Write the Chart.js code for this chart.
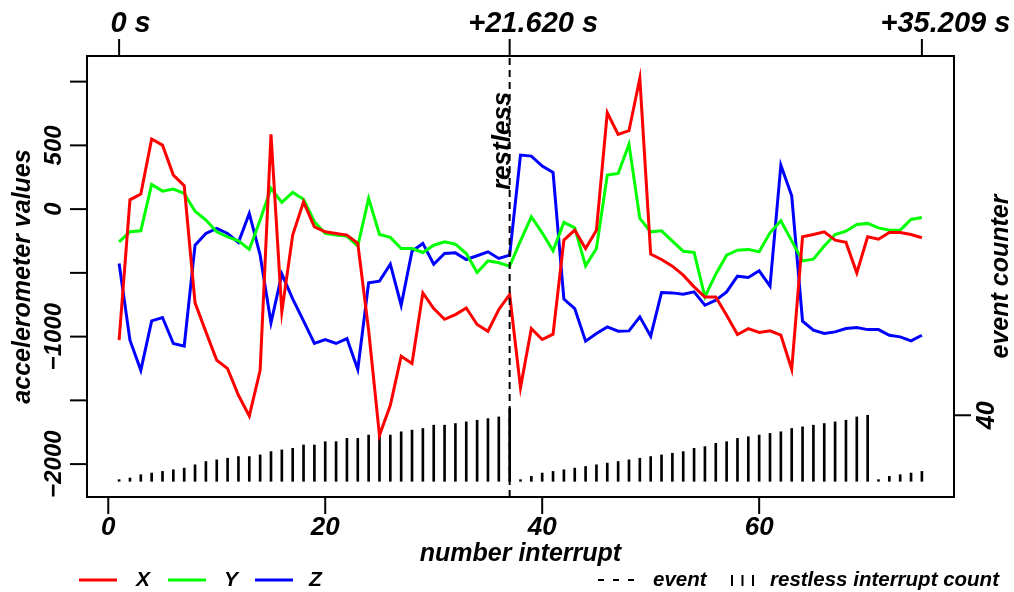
<!DOCTYPE html>
<html>
<head>
<meta charset="utf-8">
<script src="https://cdn.jsdelivr.net/npm/chart.js@4"></script>
<style>
  html,body{margin:0;padding:0;background:#fff}
  #wrap{position:relative;width:1014px;height:592px}
</style>
</head>
<body>
<div id="wrap"><canvas id="chart"></canvas></div>
<script>
// ══════════════ DONNÉES ══════════════
const X_VALS = [-1028,73,118,550,502,267,183,-735,-963,-1185,-1251,-1460,-1622,-1264,586,-806,-204,57,-139,-178,
  -191,-204,-269,-950,-1774,-1539,-1154,-1211,-657,-780,-864,-827,-775,-905,-958,-787,-670,-1400,-937,-1023,
  -981,-243,-165,-309,-165,756,586,615,1026,-353,-395,-447,-518,-610,-690,-690,-832,-984,-937,-968,
  -955,-989,-1256,-217,-199,-178,-243,-261,-500,-217,-236,-183,-183,-199,-225];
const Y_VALS = [-257,-178,-170,194,141,157,123,-16,-86,-178,-217,-249,-316,-86,162,53,131,78,-99,-191,
  -204,-212,-290,84,-199,-222,-309,-309,-340,-283,-257,-275,-348,-497,-406,-421,-447,-249,-60,-186,
  -327,-104,-147,-445,-309,267,280,508,-73,-178,-170,-251,-330,-340,-688,-510,-361,-322,-316,-335,
  -186,-92,-249,-406,-393,-290,-199,-173,-120,-112,-147,-165,-165,-81,-65];
const Z_VALS = [-426,-1028,-1264,-877,-850,-1054,-1075,-283,-191,-152,-191,-261,-34,-361,-892,-510,-704,-877,-1054,-1023,
  -1054,-1015,-1258,-578,-565,-432,-754,-330,-269,-432,-348,-343,-395,-366,-335,-387,-361,424,416,338,
  288,-706,-780,-1036,-976,-924,-958,-955,-845,-997,-654,-657,-667,-649,-754,-714,-649,-526,-536,-484,
  -604,345,104,-879,-950,-976,-963,-937,-929,-945,-945,-989,-1002,-1034,-989];
const COUNTS = [1,2,4,5,6,7,8,10,12,13,14,15,15,16,18,19,20,22,22,24,
  24,26,26,28,28,28,30,31,32,34,34,35,36,37,38,39,44,1,3,5,
  6,7,8,9,10,11,12,13,14,15,16,17,18,20,21,23,24,26,27,28,
  29,30,32,33,34,35,36,37,39,40,1,3,4,5,6];

const EVENT_AT = 37;
const TIME_AT = [1, 37, 75];
const TIME_LABELS = ['0 s', '+21.620 s', '+35.209 s'];
const X_TICKS = [0, 20, 40, 60];
const Y_TICKS = [1000, 500, 0, -500, -1000, -1500, -2000];
const Y_LABELED = [500, 0, -1000, -2000];
const Y2_TICKS = [40];

const X_RANGE = [-1.96, 77.96];
const Y_RANGE = [-2258, 1201];
const Y2_RANGE = [-9.5, 257.6];

const idx = X_VALS.map((_, i) => i + 1);

// ══════════════ UTILS ══════════════
const rFont = px => `italic bold ${px}px "Liberation Sans", Arial, sans-serif`;
const fmt = v => v < 0 ? '\u2212' + Math.abs(v) : String(v);

function txt(ctx, s, x, y, px, opt){
  opt = opt || {};
  ctx.save();
  ctx.translate(x, y);
  if(opt.rot) ctx.rotate(opt.rot);
  ctx.font = rFont(px);
  ctx.textAlign = opt.align || 'center';
  ctx.textBaseline = opt.base || 'middle';
  ctx.fillStyle = '#000';
  ctx.fillText(s, 0, 0);
  ctx.restore();
}
function seg(ctx, x1, y1, x2, y2, w, dash){
  ctx.save();
  ctx.beginPath();
  ctx.lineWidth = w || 2;
  ctx.strokeStyle = '#000';
  if(dash) ctx.setLineDash(dash);
  ctx.moveTo(x1, y1); ctx.lineTo(x2, y2);
  ctx.stroke();
  ctx.restore();
}

// ══════════════ AXES STYLE R ══════════════
const rAxes = {
  id: 'rAxes',
  afterDatasetsDraw(chart){
    const { ctx, chartArea: a, scales } = chart;
    const sx = scales.x, sy = scales.y, sy2 = scales.y2;
    const TL = 17;

    // cadre
    ctx.save();
    ctx.lineWidth = 2; ctx.strokeStyle = '#000';
    ctx.strokeRect(a.left, a.top, a.right - a.left, a.bottom - a.top);
    ctx.restore();

    // axe du bas
    X_TICKS.forEach(v => {
      const p = sx.getPixelForValue(v);
      seg(ctx, p, a.bottom, p, a.bottom + TL);
      txt(ctx, String(v), p, a.bottom + 31, 26);
    });
    txt(ctx, 'number interrupt', (a.left + a.right) / 2, 561, 25, { base: 'alphabetic' });

    // axe du haut (temps)
    TIME_AT.forEach((v, i) => {
      const p = sx.getPixelForValue(v);
      seg(ctx, p, a.top, p, a.top - TL);
      ctx.font = rFont(29);
      const w = ctx.measureText(TIME_LABELS[i]).width;
      txt(ctx, TIME_LABELS[i], p + 6 + 0.135 * w, 24, 29);
    });

    // axe gauche
    Y_TICKS.forEach(v => {
      const p = sy.getPixelForValue(v);
      seg(ctx, a.left - TL, p, a.left, p);
      if(Y_LABELED.includes(v)) txt(ctx, fmt(v), 54, p, 24, { rot: -Math.PI / 2 });
    });
    txt(ctx, 'accelerometer values', 23, (a.top + a.bottom) / 2, 25, { rot: -Math.PI / 2 });

    // axe droit
    Y2_TICKS.forEach(v => {
      const p = sy2.getPixelForValue(v);
      seg(ctx, a.right, p, a.right + TL, p);
      txt(ctx, String(v), 987, p, 25, { rot: -Math.PI / 2 });
    });
    txt(ctx, 'event counter', 1001, (a.top + a.bottom) / 2, 25, { rot: -Math.PI / 2 });

    // étiquette évènement
    txt(ctx, 'restless', sx.getPixelForValue(EVENT_AT), sy.getPixelForValue(150), 26,
      { rot: -Math.PI / 2, align: 'left', base: 'alphabetic' });

    // légende
    const ly = 580;
    [['#ff0000', 79, 'X', 136], ['#00ff00', 168, 'Y', 224], ['#0000ff', 255, 'Z', 309]].forEach(([c, x0, s, tx]) => {
      ctx.save();
      ctx.beginPath(); ctx.lineWidth = 3; ctx.strokeStyle = c;
      ctx.moveTo(x0, ly); ctx.lineTo(x0 + 38, ly); ctx.stroke();
      ctx.restore();
      txt(ctx, s, tx, ly, 21, { align: 'left' });
    });
    seg(ctx, 598, ly, 634, ly, 2, [6, 9]);
    txt(ctx, 'event', 653, ly, 20.5, { align: 'left' });
    [732, 742.5, 753].forEach(x => seg(ctx, x, ly - 5, x, ly + 6, 2));
    txt(ctx, 'restless interrupt count', 770, ly, 20.5, { align: 'left' });
  }
};

// ══════════════ GRAPHIQUE ══════════════
function serie(label, vals, color){
  return {
    type: 'line', label, yAxisID: 'y', order: 1,
    data: vals.map((v, i) => ({ x: idx[i], y: v })),
    borderColor: color, borderWidth: 3, pointRadius: 0, tension: 0, fill: false
  };
}

new Chart(document.getElementById('chart'), {
  data: {
    datasets: [
      {
        type: 'bar', label: 'restless interrupt count', yAxisID: 'y2', order: 5,
        data: COUNTS.map((c, i) => ({ x: idx[i], y: c })),
        backgroundColor: '#000', barThickness: 2, borderWidth: 0
      },
      serie('X', X_VALS, '#ff0000'),
      serie('Y', Y_VALS, '#00ff00'),
      serie('Z', Z_VALS, '#0000ff'),
      {
        type: 'line', label: 'event', yAxisID: 'y', order: 0,
        data: [{ x: EVENT_AT, y: Y_RANGE[0] }, { x: EVENT_AT, y: Y_RANGE[1] }],
        borderColor: '#000', borderWidth: 2, borderDash: [7, 5], pointRadius: 0
      }
    ]
  },
  options: {
    responsive: true,
    maintainAspectRatio: false,
    animation: false,
    devicePixelRatio: 1,
    layout: { padding: { left: 87, right: 60, top: 56, bottom: 95 } },
    plugins: { legend: { display: false }, tooltip: { enabled: false } },
    scales: {
      x: { type: 'linear', min: X_RANGE[0], max: X_RANGE[1], display: false, offset: false },
      y: { type: 'linear', min: Y_RANGE[0], max: Y_RANGE[1], display: false },
      y2: { type: 'linear', min: Y2_RANGE[0], max: Y2_RANGE[1], display: false }
    }
  },
  plugins: [rAxes]
});
</script>
</body>
</html>
